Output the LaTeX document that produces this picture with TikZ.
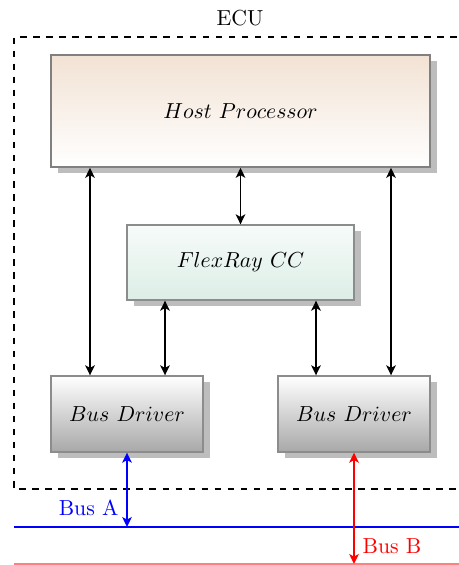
\documentclass[tikz,border=0pt]{standalone}
\usetikzlibrary{shadows,arrows.meta}
\definecolor{hosttop}{HTML}{F2E2D4}
\definecolor{cctop}{HTML}{F7FBF9}
\definecolor{ccbot}{HTML}{DCEEE6}
\definecolor{bdbot}{HTML}{A8A8A8}
\definecolor{shadowgray}{HTML}{BDBDBD}
\tikzset{
  blk/.style={draw=black!45, semithick, rectangle, inner sep=0pt,
    drop shadow={shadow xshift=3.2pt, shadow yshift=-2.8pt, fill=shadowgray, opacity=1}},
  hostbox/.style={blk, line width=0.75pt, draw=black!50, top color=hosttop, bottom color=white,
    minimum width=174.3pt, minimum height=51.5pt},
  ccbox/.style={blk, top color=cctop, bottom color=ccbot,
    minimum width=104.4pt, minimum height=34.5pt},
  bdbox/.style={blk, top color=white, bottom color=bdbot,
    minimum width=69.9pt, minimum height=35pt},
  link/.style={line width=0.75pt, {Stealth[length=4.6pt,width=4.4pt,inset=1.2pt]}-{Stealth[length=4.6pt,width=4.4pt,inset=1.2pt]}},
}
\begin{document}
\begin{tikzpicture}[x=0.46pt, y=-0.46pt]
\useasboundingbox (0,0) rectangle (459,565);
% ECU frame
\node (ecu) at (240,18) {ECU};
\draw[thick, dashed] (470,37) -- (14,37) -- (14,489) -- (470,489);
% blocks
\node[hostbox] (host) at (240.5,111) {$Host~Processor$};
\node[ccbox] (cc) at (240.5,262.5) {$FlexRay~CC$};
\node[bdbox] (bd1) at (127,414) {$Bus~Driver$};
\node[bdbox] (bd2) at (354,414) {$Bus~Driver$};
% helper x positions
\coordinate (xa) at (90,0);
\coordinate (xb) at (165,0);
\coordinate (xc) at (316,0);
\coordinate (xd) at (391,0);
% black links
\draw[link] (host.south -| xa) -- (bd1.north -| xa);
\draw[link] (host.south) -- (cc.north);
\draw[link] (host.south -| xd) -- (bd2.north -| xd);
\draw[link] (cc.south -| xb) -- (bd1.north -| xb);
\draw[link] (cc.south -| xc) -- (bd2.north -| xc);
% buses
\coordinate (busAL) at (14,527);
\coordinate (busAR) at (470,527);
\coordinate (busBL) at (14,564);
\coordinate (busBR) at (470,564);
\draw[blue, line width=0.9pt] (busAL) -- (busAR);
\draw[red!50, line width=0.5pt] (busBL) -- (busBR);
\draw[link, blue] (bd1.south) -- (bd1.south |- busAL);
\draw[link, red] (bd2.south) -- (bd2.south |- busBL);
\node[blue, anchor=east, inner sep=1pt] (busA) at (121,508) {Bus A};
\node[red, anchor=west, inner sep=1pt] (busB) at (360,546) {Bus B};
\end{tikzpicture}
\end{document}
